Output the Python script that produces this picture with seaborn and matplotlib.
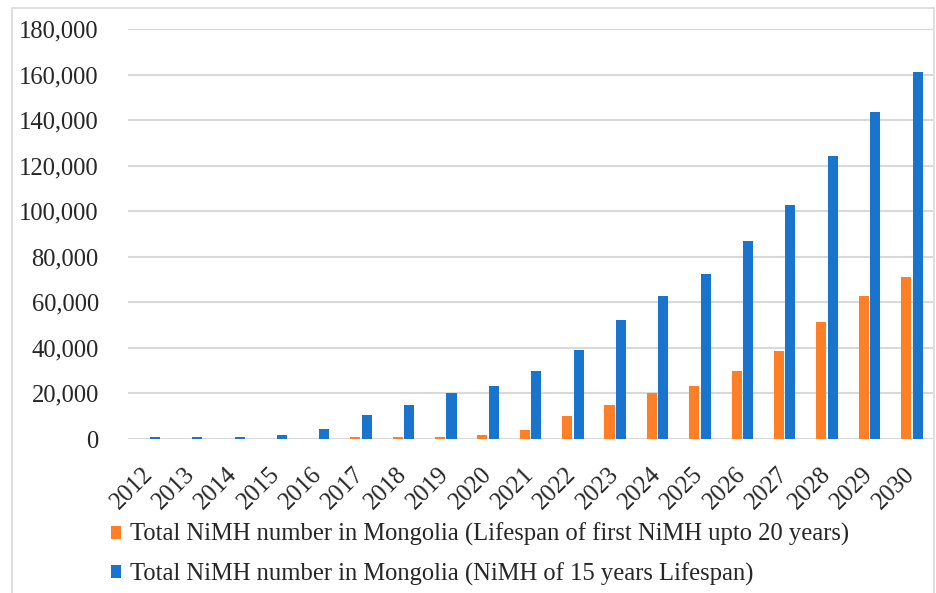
import matplotlib
matplotlib.use("Agg")
import matplotlib.pyplot as plt
import seaborn as sns
import pandas as pd
from matplotlib.patches import Rectangle
from matplotlib.ticker import FuncFormatter

years = [str(y) for y in range(2012, 2031)]
series_names = [
    "Total NiMH number in Mongolia (Lifespan of first NiMH upto 20 years)",
    "Total NiMH number in Mongolia (NiMH of 15 years Lifespan)",
]
lifespan20 = [0, 0, 0, 0, 0, 900, 900, 900, 1600, 4100, 10200, 14900, 20300,
              23100, 29900, 38800, 51500, 63000, 71200]
lifespan15 = [1000, 1000, 1000, 1600, 4200, 10400, 15100, 20400, 23300, 29900,
              39200, 52200, 63000, 72500, 87000, 102800, 124400, 143700, 161000]
colors = ["#FF7F27", "#1874CD"]

df = pd.DataFrame({
    "year": years * 2,
    "value": lifespan20 + lifespan15,
    "series": [series_names[0]] * len(years) + [series_names[1]] * len(years),
})

sns.set_theme(style="white")
plt.rcParams["font.family"] = ["Liberation Serif", "DejaVu Serif"]

FS = 17.75

fig = plt.figure(figsize=(9.36, 5.93), dpi=100)
ax = fig.add_axes([128 / 936, 1 - 439 / 593, (933 - 128) / 936, (439 - 29) / 593])

sns.barplot(data=df, x="year", y="value", hue="series", palette=colors,
            width=0.54, gap=0.12, ax=ax, legend=True, saturation=1,
            linewidth=0, edgecolor="none")

ax.set_ylim(0, 180000)
ax.set_xlim(-0.5, len(years) - 0.5)
ax.set_yticks(range(0, 180001, 20000))
ax.yaxis.set_major_formatter(FuncFormatter(lambda v, p: f"{int(v):,}"))
ax.yaxis.grid(True, color="#d9d9d9", linewidth=1.5)
ax.set_axisbelow(True)
for s in ax.spines.values():
    s.set_visible(False)
ax.set_xlabel("")
ax.set_ylabel("")
ax.tick_params(axis="y", labelsize=FS, pad=21, length=0)
ax.tick_params(axis="x", labelsize=FS, pad=23, length=0)
for lbl in ax.get_xticklabels():
    lbl.set_rotation(45)
    lbl.set_ha("right")
    lbl.set_va("center")
    lbl.set_rotation_mode("anchor")

handles, labels = ax.get_legend_handles_labels()
ax.get_legend().remove()
fig.legend(handles, labels, loc="upper left", bbox_to_anchor=(111 / 936, 1 - 523 / 593),
           frameon=False, fontsize=FS, handlelength=0.42, handleheight=0.42,
           handletextpad=0.35, labelspacing=0.64, borderpad=0, borderaxespad=0)

fig.patches.append(Rectangle((12 / 936, -0.01), (934 - 12) / 936, 1 - 8 / 593 + 0.01,
                             transform=fig.transFigure, fill=False,
                             edgecolor="#d9d9d9", linewidth=1.2))

fig.savefig("out.png", dpi=100)
